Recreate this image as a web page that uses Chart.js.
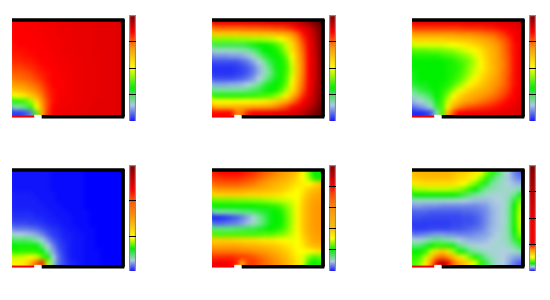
<!DOCTYPE html>
<html><head><meta charset="utf-8">
<script src="https://cdn.jsdelivr.net/npm/chart.js@4"></script>
<style>
html,body{margin:0;padding:0;background:#fff;width:550px;height:300px;overflow:hidden}
.clip{position:absolute;overflow:hidden}
.clip canvas{filter:blur(2px)}
canvas{display:block}
.soft{filter:blur(.35px)}
</style></head><body>
<script>
const panelA=[
[80,80,81,81,81,82,82,82,83,83,83,84,84,84,84,85,85,85,85,86],
[80,80,81,81,81,82,82,82,83,83,83,84,84,84,84,85,85,85,85,86],
[80,80,80,81,81,81,82,82,83,83,83,84,84,84,84,85,85,85,85,86],
[80,80,80,80,81,81,82,82,82,83,83,84,84,84,84,85,85,85,85,86],
[79,80,80,80,80,81,81,82,82,83,83,83,84,84,84,85,85,85,85,86],
[79,79,79,80,80,81,81,82,82,83,83,83,84,84,84,85,85,85,85,86],
[78,78,79,79,80,80,81,81,82,82,83,83,84,84,84,84,85,85,85,86],
[77,77,78,78,79,80,80,81,82,82,83,83,83,84,84,84,85,85,85,86],
[75,75,76,77,78,79,80,81,81,82,82,83,83,84,84,84,85,85,85,86],
[73,73,74,75,77,78,79,80,81,82,82,83,83,84,84,84,85,85,85,86],
[70,71,72,73,75,77,79,80,81,81,82,83,83,84,84,84,85,85,85,86],
[66,67,68,70,72,75,78,80,81,81,82,83,83,84,84,84,85,85,85,86],
[60,61,63,66,69,73,77,79,81,81,82,83,83,84,84,84,85,85,85,86],
[50,51,54,58,63,70,76,79,81,82,82,83,83,84,84,84,85,85,85,86],
[35,36,38,44,55,67,75,79,81,82,82,83,83,84,84,85,85,85,85,86],
[24,25,28,36,50,65,75,80,82,82,83,83,84,84,84,85,85,85,85,86],
[6,6,8,12,38,62,76,80,82,83,83,83,84,84,85,85,85,85,85,86]];
const panelB=[
[84,84,84,84,84,84,84,85,85,85,86,86,86,87,88,90,92,95,98,100],
[72,72,72,72,72,72,73,73,73,74,74,75,75,76,78,80,84,88,93,98],
[58,58,58,58,58,59,59,59,60,60,60,61,62,64,67,73,79,85,91,97],
[42,42,42,42,43,43,43,44,44,45,46,47,50,54,60,68,76,83,90,97],
[30,30,30,30,30,30,31,32,33,33,34,37,41,47,55,65,74,82,90,96],
[22,22,22,22,23,24,25,28,30,33,33,34,38,45,54,63,72,81,89,96],
[14,14,14,15,15,16,18,22,27,30,32,33,35,41,50,61,71,80,89,96],
[8,8,8,8,8,10,12,16,20,26,30,32,34,38,48,60,70,80,88,95],
[5,5,5,5,6,7,9,12,17,23,28,32,34,37,47,59,70,80,88,95],
[5,5,5,5,6,7,9,12,17,23,27,31,34,38,47,59,70,80,88,95],
[8,8,8,8,9,10,12,15,20,25,29,32,34,39,49,60,71,80,88,95],
[16,16,16,17,17,18,20,23,27,30,32,33,35,41,51,62,72,81,89,96],
[27,27,27,27,27,27,28,29,30,32,33,34,38,45,54,64,74,82,90,96],
[35,35,35,35,35,35,36,36,37,38,39,42,46,52,60,69,77,84,91,96],
[50,50,50,50,50,50,50,51,51,52,54,56,60,64,70,76,81,87,92,97],
[62,62,62,62,63,64,64,65,65,66,67,69,72,75,79,82,86,90,94,98],
[80,80,80,80,70,70,78,82,82,83,83,84,84,85,87,88,91,94,97,100]];
const panelC=[
[84,84,84,84,84,84,84,84,84,84,85,85,85,85,85,86,86,87,87,88],
[76,76,76,76,76,76,76,76,76,77,77,77,77,78,78,79,80,81,83,85],
[67,67,67,67,67,67,67,67,68,68,68,69,70,71,72,74,76,79,81,84],
[57,57,57,57,57,57,58,58,59,60,60,62,63,65,67,70,73,76,80,84],
[48,48,48,48,48,48,49,50,51,52,54,56,58,61,64,67,71,75,79,83],
[39,39,39,40,40,41,42,43,45,47,49,51,54,58,62,66,70,75,79,83],
[35,35,35,35,35,36,37,38,40,42,44,48,52,57,61,65,70,74,79,83],
[33,33,33,33,33,33,34,35,37,39,42,46,51,56,61,65,69,74,79,83],
[33,33,33,33,33,33,34,35,36,39,43,47,51,56,60,65,69,74,79,83],
[32,33,33,33,33,33,34,35,37,40,44,48,53,57,61,65,70,74,79,83],
[32,33,33,33,33,33,34,36,38,42,47,51,55,59,63,67,70,75,79,83],
[31,32,32,33,33,34,35,38,42,47,51,55,58,62,65,68,71,75,79,83],
[28,30,31,32,33,35,38,43,49,53,57,60,62,64,67,70,73,76,80,83],
[24,26,28,30,33,36,42,50,55,59,62,64,66,68,70,72,75,78,80,84],
[18,20,24,27,32,37,47,55,60,64,66,68,70,72,74,76,78,80,82,85],
[12,14,17,22,30,38,52,62,68,72,74,75,76,77,78,79,81,82,84,86],
[4,4,5,8,24,38,60,74,80,81,82,82,83,83,84,84,85,85,86,87]];
const panelD=[
[2,2,2,2,2,2,2,1,1,1,1,1,1,0,0,0,0,0,0,0],
[2,2,2,2,2,2,2,1,1,1,1,1,1,0,0,0,0,0,0,0],
[2,2,2,2,2,2,2,1,1,1,1,1,1,0,0,0,0,0,0,0],
[2,2,2,2,2,2,2,1,1,1,1,1,1,0,0,0,0,0,0,0],
[3,3,3,3,2,2,2,2,1,1,1,1,1,0,0,0,0,0,0,0],
[3,3,3,3,3,2,2,2,1,1,1,1,1,0,0,0,0,0,0,0],
[3,3,3,3,3,3,2,2,2,1,1,1,1,0,0,0,0,0,0,0],
[4,4,4,4,3,3,3,2,2,2,1,1,1,1,0,0,0,0,0,0],
[5,5,5,5,4,4,3,3,2,2,2,1,1,1,0,0,0,0,0,0],
[7,7,7,6,6,5,4,3,3,2,2,1,1,1,0,0,0,0,0,0],
[12,12,12,11,10,8,6,5,4,3,2,2,1,1,1,0,0,0,0,0],
[20,20,19,18,16,13,9,6,5,3,3,2,2,1,1,0,0,0,0,0],
[29,29,29,28,25,21,14,9,6,4,3,2,2,1,1,0,0,0,0,0],
[33,34,34,34,33,28,20,13,7,5,3,2,2,1,1,0,0,0,0,0],
[35,36,36,36,36,33,26,16,9,5,3,2,2,1,1,1,0,0,0,0],
[46,47,48,50,48,40,33,20,11,6,3,2,2,1,1,1,0,0,0,0],
[52,52,54,62,72,78,45,24,11,7,4,3,2,1,1,1,0,0,0,0]];
const panelE=[
[78,80,80,80,80,79,78,77,75,73,71,69,67,65,62,58,50,42,33,34],
[76,76,77,77,77,76,75,74,72,70,68,66,64,62,59,55,50,44,35,33],
[72,73,73,73,73,72,71,70,68,66,64,62,60,59,56,54,52,50,54,58],
[66,67,67,67,67,66,65,64,63,62,61,59,58,56,53,50,53,57,60,62],
[56,56,57,57,57,57,56,56,56,55,55,54,53,51,50,50,55,60,63,65],
[40,40,40,40,41,41,41,42,42,43,44,45,46,47,48,50,57,62,65,66],
[33,33,33,33,33,33,33,33,34,34,35,36,38,42,46,51,58,63,66,67],
[25,25,25,26,27,28,28,29,30,31,32,33,35,40,45,51,58,63,66,67],
[3,4,5,7,9,12,16,20,25,29,32,33,34,39,45,51,58,63,66,67],
[10,10,11,12,13,15,18,22,26,29,32,33,34,39,45,51,58,63,66,67],
[28,28,28,28,29,29,30,30,31,32,33,34,36,40,46,51,58,63,66,67],
[38,38,38,38,38,38,38,38,38,39,39,40,42,44,47,50,57,62,65,66],
[57,57,57,57,56,56,55,55,54,53,53,52,51,50,49,50,55,60,64,65],
[63,64,64,64,64,63,62,62,61,60,59,58,56,54,52,50,53,58,61,62],
[70,70,70,70,70,69,69,68,67,66,64,62,60,57,54,50,50,50,52,54],
[76,77,77,77,76,76,75,74,72,70,68,66,63,60,56,52,48,42,38,40],
[82,82,82,80,78,62,75,76,74,72,70,68,66,62,58,54,48,36,33,35]];
const panelF=[
[60,61,62,62,62,62,62,60,58,57,55,53,50,42,36,30,24,20,13,10],
[58,59,60,60,60,60,60,58,56,55,52,49,43,36,30,26,23,19,15,12],
[53,54,55,55,55,55,55,54,52,50,46,41,36,31,26,24,22,20,18,17],
[44,45,45,46,46,46,46,45,44,40,36,33,29,26,24,23,22,22,22,24],
[33,33,33,33,33,33,33,33,32,30,28,26,24,22,21,21,21,23,27,32],
[22,22,22,22,22,22,21,21,21,20,19,18,18,18,19,20,21,24,31,40],
[15,15,14,14,14,13,13,13,13,13,13,13,14,15,18,19,21,25,33,44],
[10,10,10,9,9,9,9,9,9,10,10,11,12,14,17,19,21,26,34,46],
[8,8,7,7,7,7,7,7,7,8,8,9,11,14,17,19,21,26,34,47],
[6,6,6,6,6,6,6,7,7,8,8,9,11,14,17,19,21,26,34,46],
[6,6,6,7,7,7,7,8,8,9,10,11,12,15,18,19,22,26,33,45],
[11,12,13,14,15,15,14,14,13,13,13,14,15,16,18,20,22,25,32,42],
[20,21,23,26,28,27,25,23,20,18,17,17,17,18,20,21,22,24,30,36],
[28,29,31,33,36,36,35,32,28,25,22,21,20,20,21,21,21,23,26,30],
[33,33,36,46,55,58,54,44,35,32,28,26,24,22,21,21,20,20,22,24],
[36,38,46,58,68,72,68,60,54,48,40,34,30,26,23,21,20,18,16,15],
[38,42,52,66,82,92,84,72,65,60,54,48,36,30,25,21,20,17,12,9]];

const heatValues=[0,8,20,27,33,42,50,58,67,74,80,90,100];
const heatColors=['#0000ff','#3c50f0','#b0d0e0','#70e890','#00f000','#80ff00','#ffff00','#ffc800','#ff9600','#ff5000','#ff0000','#c80000','#600000'];

const barStopsStd=[[0,'#1414ff'],[.15,'#a8cce0'],[.31,'#00f000'],[.5,'#ffff00'],[.69,'#ff9600'],[.84,'#ff0000'],[1,'#800000']];
const barStopsD=[[0,'#1414ff'],[.10,'#a8cce0'],[.21,'#00f000'],[.31,'#ffff00'],[.51,'#ff9600'],[.67,'#ff5000'],[.76,'#ff0000'],[1,'#800000']];
const barStopsE=[[0,'#1414ff'],[.09,'#a8cce0'],[.2,'#00f000'],[.31,'#ffff00'],[.4,'#ffc000'],[.58,'#ff9600'],[.73,'#ff4000'],[.8,'#ff0000'],[1,'#800000']];
const barStopsF=[[0,'#1414ff'],[.04,'#a8cce0'],[.07,'#00f000'],[.13,'#ffff00'],[.2,'#ff9600'],[.25,'#ff0000'],[.5,'#f00000'],[.74,'#c00000'],[1,'#800000']];
const barTicksStd=[.25,.5,.75];
const barTicksD=[.33,.665];
const barTicksE=[.2,.4,.6,.8];
const barTicksF=[.25,.5,.75];

const cols=20,rows=17;
const frameTop=[[0,17],[20.25,17]];
const frameRight=[[20,17.15],[20,-0.12]];
const frameBottom=[[5.35,-0.12],[20.25,-0.12]];
const frameMark=[[19.6,16.55],[20,16.55]];
const redEdge=[[0,-0.1],[4,-0.1]];
const notch=[[4,-0.1],[5.35,-0.1]];

const layouts=[
 {left:0,top:0,data:panelA,stops:barStopsStd,ticks:barTicksStd},
 {left:200,top:0,data:panelB,stops:barStopsStd,ticks:barTicksStd},
 {left:400,top:0,data:panelC,stops:barStopsStd,ticks:barTicksStd},
 {left:0,top:150,data:panelD,stops:barStopsD,ticks:barTicksD},
 {left:200,top:150,data:panelE,stops:barStopsE,ticks:barTicksE},
 {left:400,top:150,data:panelF,stops:barStopsF,ticks:barTicksF}];

function heatColor(v){
  for(let i=1;i<heatValues.length;i++){
    if(v<=heatValues[i]){
      const t=(v-heatValues[i-1])/(heatValues[i]-heatValues[i-1]);
      const a=heatColors[i-1],b=heatColors[i];
      const ch=k=>Math.round(parseInt(a.substr(k,2),16)*(1-t)+parseInt(b.substr(k,2),16)*t);
      return `rgb(${ch(1)},${ch(3)},${ch(5)})`;
    }
  }
  return heatColors[heatColors.length-1];
}
function mk(tag,cls,l,t,w,h,parent){
  const e=document.createElement(tag);
  e.className=cls;e.style.position='absolute';
  e.style.left=l+'px';e.style.top=t+'px';
  e.width=w;e.height=h;
  e.style.width=w+'px';e.style.height=h+'px';
  (parent||document.body).appendChild(e);
  return e;
}
const baseOpts=pad=>({responsive:false,animation:false,events:[],
  layout:{padding:pad},
  plugins:{legend:{display:false},tooltip:{enabled:false}},
  scales:{x:{type:'linear',min:0,max:cols,display:false},y:{type:'linear',min:0,max:rows,display:false}}});
const line=(pts,color,w)=>({type:'scatter',data:pts.map(p=>({x:p[0],y:p[1]})),showLine:true,borderColor:color,borderWidth:w,pointRadius:0,clip:false,fill:false});

layouts.forEach(p=>{
  const px=p.left+12,py=p.top+20,pw=111,ph=96,pad=10;
  const wrap=mk('div','clip',px,py,pw,ph);
  const hc=mk('canvas','',-pad,-pad,pw+2*pad,ph+2*pad,wrap);
  const pts=[];
  p.data.forEach((row,r)=>row.forEach((v,c)=>pts.push({x:c+.5,y:rows-r-.5,v})));
  const color=ctx=>ctx.raw?heatColor(ctx.raw.v):'#fff';
  new Chart(hc,{type:'scatter',data:{datasets:[
    {data:pts,pointStyle:'rect',pointRadius:4.6,pointBorderWidth:0,backgroundColor:color,clip:false},
    {data:pts,pointStyle:'rect',pointRadius:9,pointBorderWidth:0,backgroundColor:color,clip:false}]},
    options:baseOpts(pad)});

  const oc=mk('canvas','soft',px-6,py-6,pw+12,ph+12);
  new Chart(oc,{type:'scatter',data:{datasets:[
    line(frameTop,'#000',3.4),line(frameRight,'#000',3.8),line(frameBottom,'#000',3.4),
    line(frameMark,'#000',2),line(redEdge,'#f00000',2),line(notch,'#fff',3.4)]},
    options:baseOpts(6)});

  const bc=mk('canvas','soft',p.left+129,p.top+15,7,106);
  const g=bc.getContext('2d').createLinearGradient(0,106,0,0);
  p.stops.forEach(s=>g.addColorStop(s[0],s[1]));
  new Chart(bc,{type:'bar',data:{labels:[''],datasets:[{data:[1],backgroundColor:g,borderColor:'#8c8c8c',borderWidth:1.5,barPercentage:1,categoryPercentage:1}]},
    options:{responsive:false,animation:false,events:[],layout:{padding:0},
      plugins:{legend:{display:false},tooltip:{enabled:false}},
      scales:{x:{display:false},
        y:{min:0,max:1,afterBuildTicks:a=>{a.ticks=p.ticks.map(value=>({value}));},
           ticks:{display:false},border:{display:false},
           grid:{color:'#000',lineWidth:1,z:1,drawTicks:false}}}}});
});
</script>
</body></html>
